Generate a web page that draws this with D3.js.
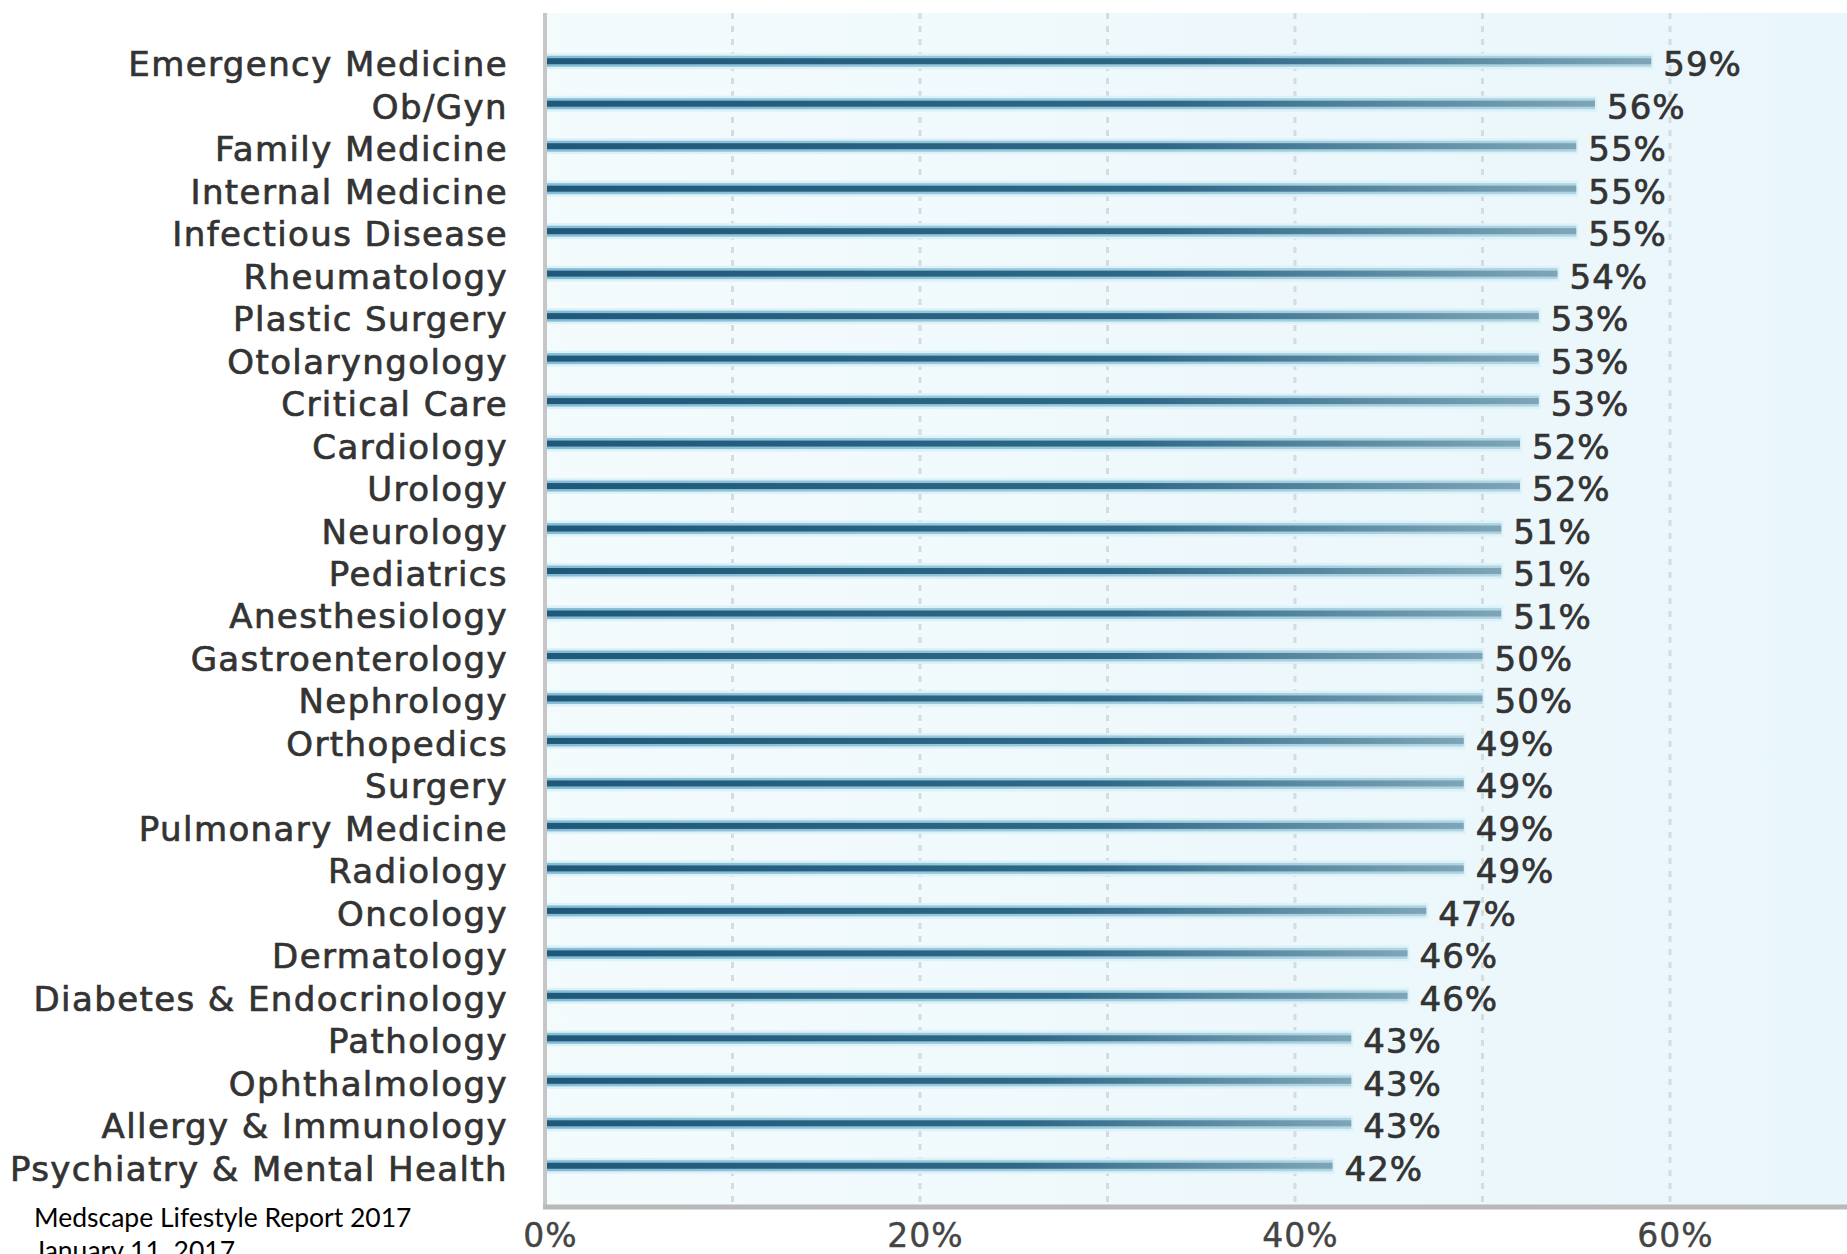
<!DOCTYPE html>
<html>
<head>
<meta charset="utf-8">
<script src="https://cdn.jsdelivr.net/npm/d3@7"></script>
<style>
  body { margin: 0; background: #fff; }
  svg { display: block; }
  .cat text { font-family: "DejaVu Sans", sans-serif; font-size: 34px; fill: #333; stroke: #333; stroke-width: 0.7px; letter-spacing: 1.4px; }
  .value-label { font-family: "DejaVu Sans", sans-serif; font-size: 34px; fill: #333; stroke: #333; stroke-width: 0.7px; letter-spacing: 1px; }
  .x-axis text { font-family: "DejaVu Sans", sans-serif; font-size: 33px; fill: #444; stroke: #444; stroke-width: 0.4px; letter-spacing: 1px; }
  .footer { font-family: Lato, "Liberation Sans", sans-serif; font-size: 26.5px; fill: #000; }
</style>
</head>
<body>
<div id="chart"></div>
<script>
// specialties, top to bottom
let categories = [
    "Emergency Medicine", "Ob/Gyn", "Family Medicine", "Internal Medicine",
    "Infectious Disease", "Rheumatology", "Plastic Surgery", "Otolaryngology",
    "Critical Care", "Cardiology", "Urology", "Neurology", "Pediatrics",
    "Anesthesiology", "Gastroenterology", "Nephrology", "Orthopedics", "Surgery",
    "Pulmonary Medicine", "Radiology", "Oncology", "Dermatology",
    "Diabetes & Endocrinology", "Pathology", "Ophthalmology",
    "Allergy & Immunology", "Psychiatry & Mental Health"
]

// percent of each specialty
let values = [59, 56, 55, 55, 55, 54, 53, 53, 53, 52, 52, 51, 51, 51, 50, 50,
    49, 49, 49, 49, 47, 46, 46, 43, 43, 43, 42]

let tickValues = [0, 20, 40, 60]
let gridValues = [10, 20, 30, 40, 50, 60]

let footerLines = ["Medscape Lifestyle Report 2017", "January 11, 2017"]

var width = 1847, height = 1254
var plot = { left: 545, top: 13, right: 1847, bottom: 1207 }

let xScale = d3.scaleLinear()
    .domain([0, 60])
    .range([plot.left, 1670])

let yScale = d3.scaleBand()
    .domain(categories)
    .range([40, 1187])
    .padding(0)

let svg = d3.select("#chart")
    .append("svg")
    .attr("width", width)
    .attr("height", height)

let defs = svg.append("defs")

let bg = defs.append("linearGradient").attr("id", "bg")
bg.append("stop").attr("offset", "0%").attr("stop-color", "#f4fbfd")
bg.append("stop").attr("offset", "100%").attr("stop-color", "#e9f6fb")

let core = defs.append("linearGradient").attr("id", "core")
core.append("stop").attr("offset", "0%").attr("stop-color", "#1f5878")
core.append("stop").attr("offset", "60%").attr("stop-color", "#2e6887")
core.append("stop").attr("offset", "100%").attr("stop-color", "#7ea5b7")

let band = defs.append("linearGradient").attr("id", "band")
band.append("stop").attr("offset", "0%").attr("stop-color", "#85bcd5")
band.append("stop").attr("offset", "100%").attr("stop-color", "#b0d4e2")

// plot background
svg.append("rect")
    .attr("x", plot.left)
    .attr("y", plot.top)
    .attr("width", plot.right - plot.left)
    .attr("height", plot.bottom - plot.top)
    .attr("fill", "url(#bg)")

// dotted gridlines
svg.append("g")
    .selectAll("line")
    .data(gridValues)
    .enter()
    .append("line")
    .attr("x1", d => xScale(d))
    .attr("x2", d => xScale(d))
    .attr("y1", plot.top)
    .attr("y2", plot.bottom)
    .attr("stroke", "#d3dcdf")
    .attr("stroke-width", 3)
    .attr("stroke-dasharray", "6,7")

// bars: pale halo, light band, dark core
let bars = svg.append("g")
    .selectAll("g")
    .data(values)
    .enter()
    .append("g")
    .attr("transform", (d, i) => "translate(0," + (yScale(categories[i]) + yScale.bandwidth() / 2) + ")")

bars.append("rect")
    .attr("x", plot.left)
    .attr("y", -8)
    .attr("width", d => xScale(d) - plot.left + 2)
    .attr("height", 16)
    .attr("fill", "#dcf2f9")

bars.append("rect")
    .attr("x", plot.left)
    .attr("y", -5.5)
    .attr("width", d => xScale(d) - plot.left)
    .attr("height", 11)
    .attr("fill", "url(#band)")

bars.append("rect")
    .attr("x", plot.left)
    .attr("y", -3)
    .attr("width", d => xScale(d) - plot.left)
    .attr("height", 6)
    .attr("fill", "url(#core)")

bars.append("text")
    .attr("class", "value-label")
    .attr("x", d => xScale(d) + 12)
    .attr("y", 15)
    .text(d => d + "%")

// left axis line
svg.append("line")
    .attr("x1", plot.left)
    .attr("x2", plot.left)
    .attr("y1", plot.top)
    .attr("y2", plot.bottom)
    .attr("stroke", "#c6c6c6")
    .attr("stroke-width", 4)

// bottom axis line
svg.append("line")
    .attr("x1", plot.left - 2)
    .attr("x2", plot.right)
    .attr("y1", plot.bottom)
    .attr("y2", plot.bottom)
    .attr("stroke", "#b9b9b9")
    .attr("stroke-width", 5)

// category labels
let yAxis = svg.append("g")
    .attr("class", "cat")
    .attr("transform", "translate(" + plot.left + ",0)")
    .call(d3.axisLeft(yScale).tickSize(0).tickPadding(37))
yAxis.select(".domain").remove()
yAxis.selectAll("text").attr("dy", "0.44em")

// x tick labels
let xAxis = svg.append("g")
    .attr("class", "x-axis")
    .attr("transform", "translate(0," + plot.bottom + ")")
    .call(d3.axisBottom(xScale).tickValues(tickValues).tickFormat(d => d + "%").tickSize(0))
xAxis.select(".domain").remove()
xAxis.selectAll("text").attr("y", 40).attr("dy", null).attr("dx", 5)

// source note
svg.append("g")
    .selectAll("text")
    .data(footerLines)
    .enter()
    .append("text")
    .attr("class", "footer")
    .attr("x", 34)
    .attr("y", (d, i) => 1227 + i * 33)
    .text(d => d)
</script>
</body>
</html>
